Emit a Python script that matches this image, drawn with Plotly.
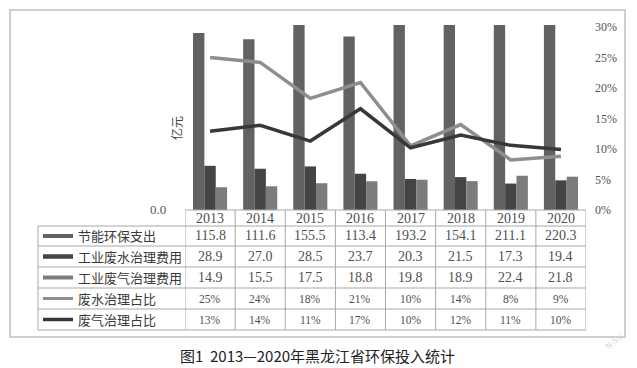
import plotly.graph_objects as go

# ---------------- data ----------------
years = ["2013", "2014", "2015", "2016", "2017", "2018", "2019", "2020"]
energy_spend = [115.8, 111.6, 155.5, 113.4, 193.2, 154.1, 211.1, 220.3]      # 节能环保支出
water_cost = [28.9, 27.0, 28.5, 23.7, 20.3, 21.5, 17.3, 19.4]              # 工业废水治理费用
gas_cost = [14.9, 15.5, 17.5, 18.8, 19.8, 18.9, 22.4, 21.8]                # 工业废气治理费用
water_ratio = [0.250, 0.242, 0.183, 0.209, 0.105, 0.140, 0.082, 0.088]     # 废水治理占比
gas_ratio = [0.129, 0.139, 0.113, 0.166, 0.102, 0.123, 0.106, 0.099]       # 废气治理占比
water_ratio_lbl = ["25%", "24%", "18%", "21%", "10%", "14%", "8%", "9%"]
gas_ratio_lbl = ["13%", "14%", "11%", "17%", "10%", "12%", "11%", "10%"]
series_names = ["节能环保支出", "工业废水治理费用", "工业废气治理费用", "废水治理占比", "废气治理占比"]
right_ticks = [0, 0.05, 0.10, 0.15, 0.20, 0.25, 0.30]
caption = "图1  2013—2020年黑龙江省环保投入统计"

# ---------------- style ----------------
C_BAR1, C_BAR2, C_BAR3 = "#626262", "#444444", "#7c7c7c"
C_LINE1, C_LINE2 = "#8e8e8e", "#383838"
CJK = "Noto Sans CJK SC"
NUM = "Liberation Serif"
W, H = 637, 368
PL, PR, PT, PB = 185, 586, 25, 210   # plot area in pixels


def px(x):
    return (x - PL) / (PR - PL)


def py(y):
    return (PB - y) / (PB - PT)


idx = list(range(len(years)))

fig = go.Figure()
fig.add_bar(x=years, y=energy_spend, name=series_names[0], marker_color=C_BAR1, marker_line_width=0)
fig.add_bar(x=years, y=water_cost, name=series_names[1], marker_color=C_BAR2, marker_line_width=0)
fig.add_bar(x=years, y=gas_cost, name=series_names[2], marker_color=C_BAR3, marker_line_width=0)
fig.add_scatter(x=years, y=water_ratio, name=series_names[3], yaxis="y2", mode="lines",
                line=dict(color=C_LINE1, width=3.5))
fig.add_scatter(x=years, y=gas_ratio, name=series_names[4], yaxis="y2", mode="lines",
                line=dict(color=C_LINE2, width=3.5))

shapes = []
annos = []

# outer frame
shapes.append(dict(type="rect", xref="paper", yref="paper", x0=px(10), x1=px(625), y0=py(337), y1=py(10),
                   line=dict(color="#cfcfcf", width=2)))

# table grid
GRID = "#a8a8a8"
row_lines = [226, 246, 267, 288, 309, 330]
shapes.append(dict(type="line", xref="paper", yref="paper", x0=px(185), x1=px(586), y0=py(210), y1=py(210),
                   line=dict(color=GRID, width=1)))
for yl in row_lines:
    shapes.append(dict(type="line", xref="paper", yref="paper", x0=px(38), x1=px(586), y0=py(yl), y1=py(yl),
                       line=dict(color=GRID, width=1)))
shapes.append(dict(type="line", xref="paper", yref="paper", x0=px(38), x1=px(38), y0=py(226), y1=py(330),
                   line=dict(color=GRID, width=1)))
for i in range(len(years) + 1):
    shapes.append(dict(type="line", xref="x", yref="paper", x0=i - 0.5, x1=i - 0.5, y0=py(210), y1=py(330),
                       line=dict(color=GRID, width=1)))

# table contents
row_centers = [236, 256.5, 277.5, 298.5, 319.5]
key_colors = [C_BAR1, C_BAR2, C_BAR3, C_LINE1, C_LINE2]
key_widths = [4, 4.5, 4, 3, 3.5]
row_values = [
    [f"{v:.1f}" for v in energy_spend],
    [f"{v:.1f}" for v in water_cost],
    [f"{v:.1f}" for v in gas_cost],
    water_ratio_lbl,
    gas_ratio_lbl,
]
TXT = "#505050"
for r, yc in enumerate(row_centers):
    shapes.append(dict(type="line", xref="paper", yref="paper", x0=px(43), x1=px(73), y0=py(yc), y1=py(yc),
                       line=dict(color=key_colors[r], width=key_widths[r])))
    annos.append(dict(xref="paper", yref="paper", x=px(76), y=py(yc), text=series_names[r], showarrow=False,
                      xanchor="left", yanchor="middle", font=dict(family=CJK, size=13, color="#3a3a3a")))
    fsize = 14 if r < 3 else 11.5
    for i in idx:
        annos.append(dict(xref="x", yref="paper", x=i, y=py(yc), text=row_values[r][i], showarrow=False,
                          xanchor="center", yanchor="middle", font=dict(family=NUM, size=fsize, color=TXT)))
for i in idx:
    annos.append(dict(xref="x", yref="paper", x=i, y=py(218.5), text=years[i], showarrow=False,
                      xanchor="center", yanchor="middle", font=dict(family=NUM, size=14, color=TXT)))

# left axis: zero label and unit title
annos.append(dict(xref="paper", yref="paper", x=px(168), y=py(209), text="0.0", showarrow=False,
                  xanchor="right", yanchor="middle", font=dict(family=NUM, size=13, color="#555555")))
annos.append(dict(xref="paper", yref="paper", x=px(176), y=py(128), text="亿元", showarrow=False, textangle=-90,
                  xanchor="center", yanchor="middle", font=dict(family=CJK, size=12, color="#444444")))

# caption
annos.append(dict(xref="paper", yref="paper", x=px(317), y=py(355), text=caption, showarrow=False,
                  xanchor="center", yanchor="middle", font=dict(family=CJK, size=15, color="#222222")))
# watermark
annos.append(dict(xref="paper", yref="paper", x=px(614), y=py(341), text="N-SV", showarrow=False, textangle=-40,
                  xanchor="center", yanchor="middle", font=dict(family="DejaVu Sans", size=8, color="#d6d6d6")))

fig.update_layout(
    width=W, height=H,
    margin=dict(l=PL, r=W - PR, t=PT, b=H - PB),
    paper_bgcolor="white", plot_bgcolor="white",
    barmode="group", bargap=0.32, bargroupgap=0,
    showlegend=False,
    shapes=shapes, annotations=annos,
    xaxis=dict(type="category", range=[-0.5, len(years) - 0.5], autorange=False,
               showticklabels=False, showgrid=False, zeroline=False, showline=False, ticks=""),
    yaxis=dict(range=[0, 121], showticklabels=False, showgrid=False, zeroline=False, showline=False, ticks=""),
    yaxis2=dict(overlaying="y", side="right", range=[0, 0.3033], tickvals=right_ticks, tickformat=".0%",
                showgrid=False, zeroline=False, showline=False, ticks="", ticklabelstandoff=8,
                tickfont=dict(family=NUM, size=12, color="#555555")),
)

fig.write_html("out.html", config={"displayModeBar": False},
               post_script="document.body.style.margin='0';document.body.style.overflow='hidden';")
